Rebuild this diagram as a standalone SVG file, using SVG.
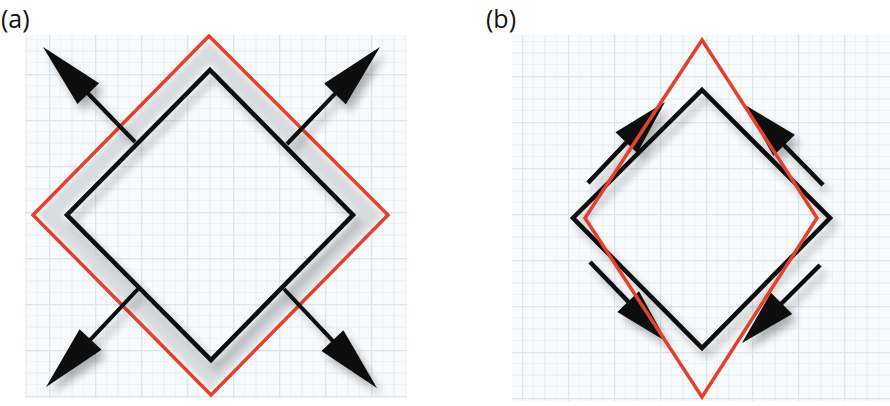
<svg xmlns="http://www.w3.org/2000/svg" width="890" height="406" viewBox="0 0 890 406">
<style>
.lbl{font-family:"Open Sans","Liberation Sans",sans-serif;font-size:25px;fill:#111}
.red{fill:none;stroke:#e5402b;stroke-width:3.5;stroke-linejoin:miter}
.blk{fill:none;stroke:#080808;stroke-width:4.5;stroke-linejoin:miter}
.arrA{stroke:#080808;stroke-width:4;fill:none;marker-end:url(#headA)}
.arrB{stroke:#080808;stroke-width:4.5;fill:none;marker-end:url(#headB)}
</style>
<defs>
<pattern id="gridA" patternUnits="userSpaceOnUse" x="3" y="28" width="46" height="46">
<rect width="46" height="46" fill="#f8fafc"/>
<path d="M11.5 0V46M34.5 0V46M0 11.5H46M0 34.5H46" stroke="#eef2f6" stroke-width="1"/>
<path d="M23 0V46M0 23H46" stroke="#e6ecf1" stroke-width="1"/>
<path d="M0.5 0V46M0 0.5H46" stroke="#dae5ee" stroke-width="1.5"/>
</pattern>
<pattern id="gridB" patternUnits="userSpaceOnUse" x="16" y="30" width="46" height="46">
<rect width="46" height="46" fill="#f8fafc"/>
<path d="M11.5 0V46M34.5 0V46M0 11.5H46M0 34.5H46" stroke="#eef2f6" stroke-width="1"/>
<path d="M23 0V46M0 23H46" stroke="#e6ecf1" stroke-width="1"/>
<path d="M0.5 0V46M0 0.5H46" stroke="#dae5ee" stroke-width="1.5"/>
</pattern>
<filter id="sh" x="-20%" y="-20%" width="150%" height="150%">
<feGaussianBlur in="SourceAlpha" stdDeviation="4"/>
<feOffset dx="5" dy="7"/>
<feComponentTransfer><feFuncA type="linear" slope="0.3"/></feComponentTransfer>
<feMerge><feMergeNode/><feMergeNode in="SourceGraphic"/></feMerge>
</filter>
<filter id="soft" x="-10%" y="-10%" width="120%" height="120%">
<feGaussianBlur stdDeviation="2.5"/>
</filter>
<marker id="headA" markerUnits="userSpaceOnUse" viewBox="-12 -16 68 32" markerWidth="68" markerHeight="32" refX="0" refY="0" orient="auto">
<path d="M55,0 L-10,-15 L-10,15 Z" fill="#080808"/>
</marker>
<marker id="headB" markerUnits="userSpaceOnUse" viewBox="-12 -16 62 32" markerWidth="62" markerHeight="32" refX="0" refY="0" orient="auto">
<path d="M46,0 L-10,-15 L-10,15 Z" fill="#080808"/>
</marker>
</defs>

<g id="panel-a">
<rect x="25" y="35" width="382" height="363" fill="url(#gridA)"/>
<text class="lbl" x="1" y="28">(a)</text>
<g id="a-band"><path d="M210,52 L372,215 L211,378 L49,215 Z" fill="none" stroke="#d8dcdf" stroke-width="16" filter="url(#soft)"/></g>
<g id="a-red"><path class="red" d="M209,36 L388,215 L211,395 L33,215 Z"/></g>
<g id="a-black" filter="url(#sh)">
<path class="blk" d="M210,70 L353,215 L211,360 L67,215 Z"/>
<g id="a-connectors">
<path class="arrA" d="M135,142 L81.3,86.5"/>
<path class="arrA" d="M287,144 L341.9,86.7"/>
<path class="arrA" d="M138,289 L83.7,346.9"/>
<path class="arrA" d="M284,289 L339.3,347.9"/>
</g>
</g>
</g>

<g id="panel-b">
<rect x="512" y="35" width="378" height="366" fill="url(#gridB)"/>
<text class="lbl" x="486" y="28">(b)</text>
<g id="b-black" filter="url(#sh)">
<path class="blk" d="M702,90 L830,218 L702,348 L573,218 Z"/>
<g id="b-connectors">
<path class="arrB" d="M588,183 L633.3,135.3"/>
<path class="arrB" d="M823,185 L777.1,138.0"/>
<path class="arrB" d="M590,262 L635.1,308.8"/>
<path class="arrB" d="M820,265 L774.5,310.5"/>
</g>
</g>
<g id="b-red"><path class="red" d="M702,40 L817,218 L702,397 L585,218 Z" stroke-width="3"/></g>
</g>
</svg>
